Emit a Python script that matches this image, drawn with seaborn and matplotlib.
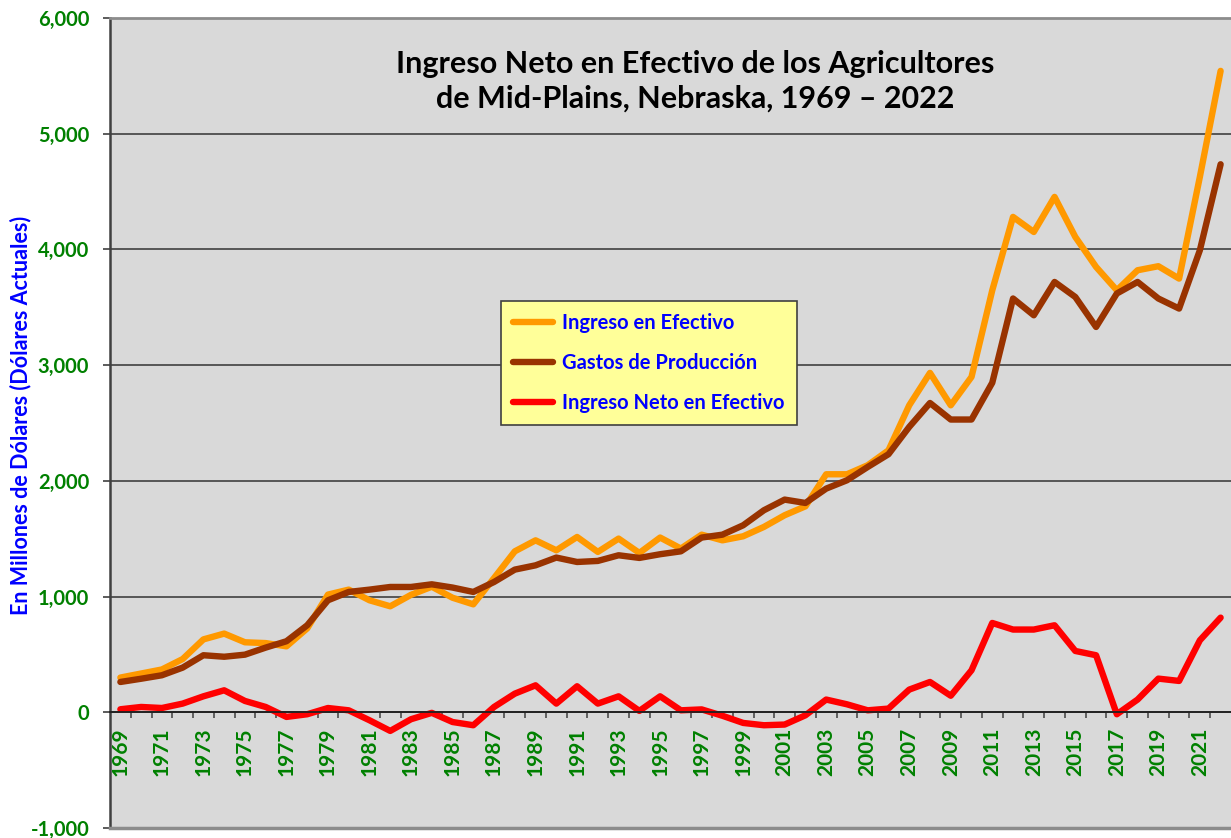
import numpy as np
import pandas as pd
import matplotlib
matplotlib.use("Agg")
import matplotlib.pyplot as plt
from matplotlib.lines import Line2D
from matplotlib.ticker import FixedLocator, FuncFormatter
import seaborn as sns

# ---------------- data ----------------
years = list(range(1969, 2023))

ingreso = [300, 335, 370, 460, 630, 680, 605, 598, 570, 725,
           1017, 1060, 968, 916, 1015, 1085, 990, 933, 1160, 1391,
           1486, 1400, 1515, 1386, 1501, 1377, 1510, 1415, 1535, 1486,
           1521, 1602, 1703, 1780, 2057, 2057, 2135, 2264, 2653, 2933,
           2653, 2898, 3647, 4281, 4151, 4454, 4108, 3849, 3647, 3820,
           3855, 3748, 4627, 5543]

gastos = [262, 290, 320, 386, 493, 480, 498, 559, 614, 752,
          968, 1040, 1060, 1083, 1083, 1106, 1078, 1040, 1126, 1233,
          1270, 1337, 1299, 1308, 1357, 1334, 1366, 1391, 1510, 1535,
          1616, 1746, 1838, 1809, 1933, 2005, 2120, 2230, 2466, 2673,
          2530, 2530, 2848, 3576, 3431, 3719, 3589, 3330, 3619, 3719,
          3576, 3489, 3993, 4736]

neto = [26, 46, 37, 75, 138, 190, 98, 46, -40, -17,
        37, 17, -69, -161, -60, -5, -84, -112, 46, 161,
        233, 75, 225, 75, 138, 12, 138, 17, 25, -30,
        -92, -112, -106, -26, 110, 69, 17, 32, 196, 262,
        143, 363, 772, 715, 715, 752, 530, 493, -17, 110,
        291, 271, 622, 818]

series_names = ["Ingreso en Efectivo", "Gastos de Producción", "Ingreso Neto en Efectivo"]
series_colors = ["#FF9900", "#993300", "#FF0000"]
y_ticks = [-1000, 0, 1000, 2000, 3000, 4000, 5000, 6000]
title = "Ingreso Neto en Efectivo de los Agricultores\nde Mid-Plains, Nebraska, 1969 \u2013 2022"
y_label = "En Millones de Dólares (Dólares Actuales)"

# --------------- frame ----------------
idx = np.arange(len(years))
df = pd.concat([
    pd.DataFrame({"pos": idx, "valor": vals, "serie": name})
    for name, vals in zip(series_names, [ingreso, gastos, neto])
])

plt.rcParams["font.family"] = ["Lato", "DejaVu Sans"]
plt.rcParams["font.weight"] = "bold"

W, H = 1231, 838
fig = plt.figure(figsize=(W / 100, H / 100), dpi=100)
fig.patch.set_facecolor("white")
ax = fig.add_axes([110 / W, 10 / H, 1121 / W, 810 / H])
ax.set_facecolor("#D9D9D9")

green = "#008000"
blue = "#0000FF"

# grid
ax.set_axisbelow(True)
ax.yaxis.grid(True, color="#404040", lw=1.2)
ax.xaxis.grid(False)

sns.lineplot(data=df, x="pos", y="valor", hue="serie",
             palette=dict(zip(series_names, series_colors)),
             hue_order=series_names, linewidth=4.6, ax=ax,
             legend=False, solid_joinstyle="round", solid_capstyle="round")

ax.set_xlim(-0.5, len(years) - 0.5)
ax.set_ylim(y_ticks[0], y_ticks[-1])

# y axis
ax.yaxis.set_major_locator(FixedLocator(y_ticks))
ax.yaxis.set_major_formatter(FuncFormatter(lambda v, p: f"{int(v):,}"))
ax.tick_params(axis="y", direction="out", length=5, width=1.2, color="#404040",
               labelcolor=green, labelsize=14.5, pad=10)
for t in ax.get_yticklabels():
    t.set_fontweight("bold")

# x axis crossing at zero
ax.spines["bottom"].set_position(("data", 0))
ax.spines["bottom"].set_color("#202020")
ax.spines["bottom"].set_linewidth(1.3)
ax.spines["left"].set_color("#404040")
ax.spines["left"].set_linewidth(1.8)
ax.spines["top"].set_color("#8C8C8C")
ax.spines["top"].set_linewidth(2.0)
ax.spines["right"].set_visible(False)
ax.axhline(y_ticks[0], color="#8C8C8C", lw=2.5, clip_on=False, zorder=5)

ax.xaxis.set_major_locator(FixedLocator(idx[::2]))
ax.set_xticklabels([str(y) for y in years[::2]], rotation=90)
ax.xaxis.set_minor_locator(FixedLocator(np.arange(0.5, len(years) - 0.5, 1)))
ax.tick_params(axis="x", which="major", length=0, pad=11, labelsize=15,
               labelcolor=green)
ax.tick_params(axis="x", which="minor", direction="out", length=4.5, width=1.1,
               color="#404040")
for t in ax.get_xticklabels():
    t.set_fontweight("bold")
    t.set_verticalalignment("top")

ax.set_xlabel("")
ax.set_ylabel("")
fig.text(21 / W, 1 - 415 / H, y_label, rotation=90, color=blue,
         fontsize=15.5, fontweight="bold", ha="center", va="center")

# title
ax.text(0.522, 0.922, title, transform=ax.transAxes, ha="center", va="center",
        fontsize=22, fontweight="bold", color="black", linespacing=1.3)

# legend
handles = [Line2D([0], [0], color=c, lw=4.6, solid_capstyle="round")
           for c in series_colors]
leg = ax.legend(handles, series_names, loc="upper left",
                bbox_to_anchor=(0.3488, 0.6506), frameon=True, fancybox=False,
                facecolor="#FFFF99", edgecolor="#404040", framealpha=1,
                prop={"size": 14.5, "weight": "bold"}, labelspacing=1.0,
                handlelength=2.0, handletextpad=0.45, borderpad=0.6,
                borderaxespad=0)
leg.get_frame().set_linewidth(1.2)
for t in leg.get_texts():
    t.set_color(blue)

fig.savefig("out.png", dpi=100, facecolor="white")
